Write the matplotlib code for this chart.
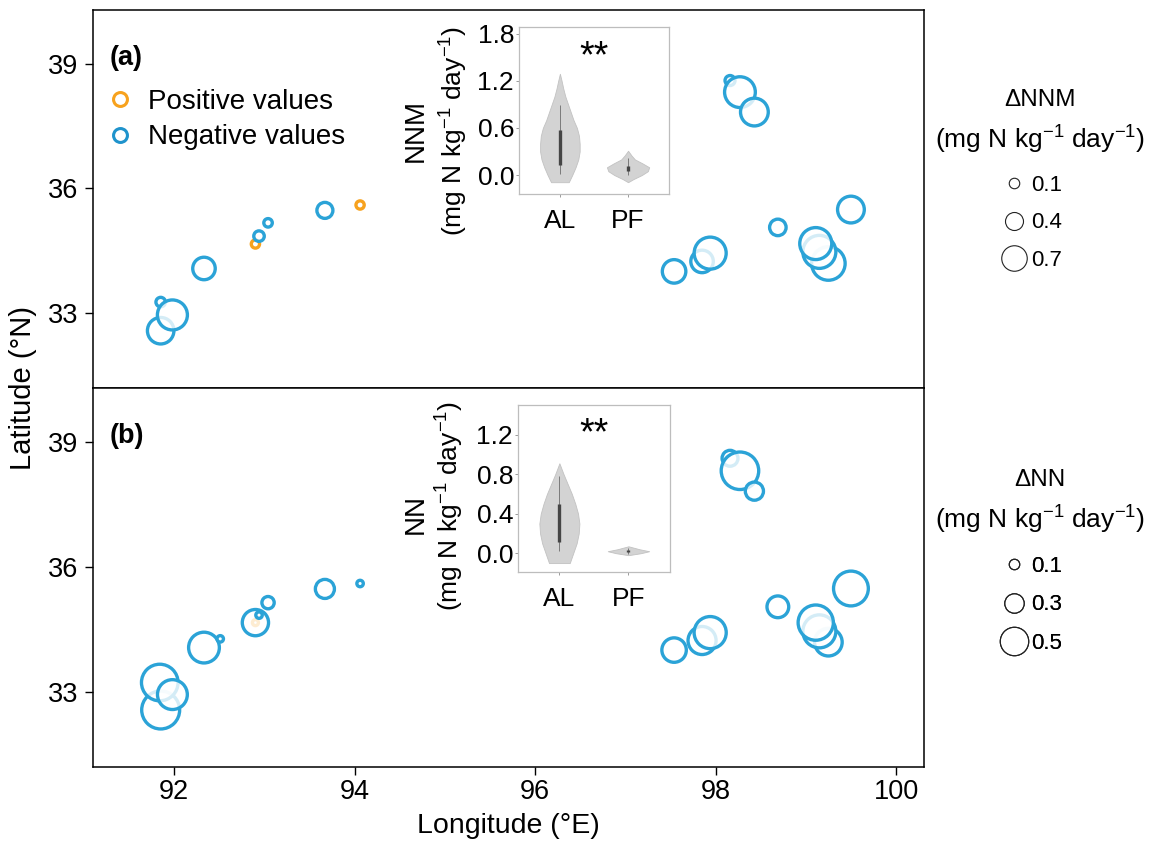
import matplotlib
matplotlib.use("Agg")
import matplotlib.pyplot as plt
from matplotlib.lines import Line2D

plt.rcParams["font.family"] = ["Liberation Sans", "DejaVu Sans"]
plt.rcParams["mathtext.fontset"] = "custom"
plt.rcParams["mathtext.rm"] = "Liberation Sans"
plt.rcParams["mathtext.default"] = "regular"

BLUE = "#2ba3d7"
ORANGE = "#f7a21e"
UNIT = "(mg N kg$^{-1}$ day$^{-1}$)"

# ---- panel (a): dNNM per site (draw order matters for overlaps) ----
lon_a = [91.85, 91.85, 91.98, 92.33, 92.90, 92.94, 93.04, 93.67, 94.06,
         98.16, 98.27, 98.43, 97.54, 97.85, 97.94, 98.69, 99.25, 99.15, 99.11, 99.50]
lat_a = [33.26, 32.57, 32.95, 34.07, 34.66, 34.85, 35.17, 35.47, 35.60,
         38.60, 38.32, 37.84, 34.00, 34.24, 34.44, 35.06, 34.19, 34.47, 34.67, 35.49]
val_a = [0.06, 0.74, 0.88, 0.58, 0.01, 0.10, 0.02, 0.32, 0.01,
         0.08, 0.91, 0.79, 0.62, 0.58, 0.96, 0.34, 1.02, 1.00, 0.96, 0.75]
pos_a = [False, False, False, False, True, False, False, False, True,
         False, False, False, False, False, False, False, False, False, False, False]

# ---- panel (b): dNN per site ----
lon_b = [91.85, 91.84, 91.98, 92.33, 92.51, 92.90, 92.90, 92.94, 93.04, 93.67, 94.06,
         98.16, 98.27, 98.43, 97.54, 97.85, 97.94, 98.69, 99.25, 99.15, 99.11, 99.50]
lat_b = [32.56, 33.22, 32.93, 34.06, 34.27, 34.66, 34.66, 34.84, 35.14, 35.47, 35.60,
         38.61, 38.31, 37.82, 34.00, 34.23, 34.42, 35.04, 34.19, 34.45, 34.66, 35.48]
val_b = [0.71, 0.68, 0.53, 0.55, 0.01, 0.00, 0.45, 0.01, 0.14, 0.29, 0.01,
         0.22, 0.70, 0.27, 0.41, 0.49, 0.58, 0.35, 0.48, 0.60, 0.65, 0.64]
pos_b = [False, False, False, False, False, True, False, False, False, False, False,
         False, False, False, False, False, False, False, False, False, False, False]

legend_vals_a = [0.1, 0.4, 0.7]
legend_vals_b = [0.1, 0.3, 0.5]

# ---- inset violins: (level, half-width) profiles and box stats ----
groups = ["AL", "PF"]
al_a_y = [-0.09, 0.0, 0.1, 0.2, 0.3, 0.4, 0.5, 0.6, 0.7, 0.8, 0.9, 1.0, 1.1, 1.2, 1.29]
al_a_w = [0.13, 0.18, 0.23, 0.27, 0.29, 0.29, 0.28, 0.25, 0.20, 0.16, 0.12, 0.08, 0.05, 0.025, 0.0]
pf_a_y = [-0.09, -0.05, 0.0, 0.05, 0.1, 0.15, 0.2, 0.25, 0.31]
pf_a_w = [0.0, 0.08, 0.20, 0.29, 0.31, 0.21, 0.10, 0.05, 0.0]
box_a = [(0.02, 0.13, 0.57, 0.89), (0.0, 0.05, 0.12, 0.22)]

al_b_y = [-0.10, 0.0, 0.1, 0.2, 0.3, 0.4, 0.5, 0.6, 0.7, 0.8, 0.91]
al_b_w = [0.15, 0.20, 0.25, 0.28, 0.29, 0.27, 0.23, 0.18, 0.12, 0.06, 0.0]
pf_b_y = [-0.02, 0.0, 0.02, 0.04, 0.07]
pf_b_w = [0.0, 0.18, 0.30, 0.16, 0.0]
box_b = [(0.02, 0.11, 0.50, 0.78), (-0.01, 0.01, 0.035, 0.05)]


def marker_pt(v, base, k):
    return 0.72 * (base + k * v)


fig = plt.figure(figsize=(11.51, 8.46), dpi=100)
ax_a = fig.add_axes([0.0808, 0.5414, 0.722, 0.4468])
ax_b = fig.add_axes([0.0808, 0.0934, 0.722, 0.448])

panels = [
    (ax_a, lon_a, lat_a, val_a, pos_a, 8, 25, legend_vals_a, "\u0394NNM", "(a)",
     0.437, 0.74, 0.8818, 0.8345),
    (ax_b, lon_b, lat_b, val_b, pos_b, 6, 45, legend_vals_b, "\u0394NN", "(b)",
     0.4274, 0.80, 0.4326, 0.3853),
]

for ax, lon, lat, val, pos, base, k, lvals, ltitle, tag, leg_y, lsp, t1_y, t2_y in panels:
    sizes = [marker_pt(v, base, k) ** 2 for v in val]
    cols = [ORANGE if p else BLUE for p in pos]
    ax.scatter(lon, lat, s=sizes, facecolors=(1, 1, 1, 0.8), edgecolors=cols,
               linewidths=2.4, zorder=3)
    ax.set_xlim(91.1, 100.31)
    ax.set_ylim(31.19, 40.3)
    ax.set_xticks([92, 94, 96, 98, 100])
    ax.set_yticks([33, 36, 39])
    ax.tick_params(axis="both", direction="out", length=5.5, width=1.0,
                   labelsize=19.5, color="black")
    ax.tick_params(axis="y", pad=5)
    ax.tick_params(axis="x", pad=3)
    for sp in ax.spines.values():
        sp.set_linewidth(1.1)
    ax.text(0.02, 0.873, tag, transform=ax.transAxes, fontsize=19.5,
            fontweight="bold", va="center", ha="left")

    # size legend on the right
    handles = [Line2D([], [], linestyle="none", marker="o",
                      markersize=marker_pt(v, base, k), markerfacecolor="none",
                      markeredgecolor="#222222", markeredgewidth=0.8)
               for v in lvals]
    leg = ax.legend(handles, [f"{v:.1f}" for v in lvals],
                    loc="center", bbox_to_anchor=(1.129, leg_y), frameon=False,
                    fontsize=16, handlelength=1.25, handletextpad=0.16,
                    labelspacing=lsp, borderpad=0, borderaxespad=0)
    ax.add_artist(leg)
    fig.text(0.9036, t1_y, ltitle, fontsize=17.5, ha="center", va="center")
    fig.text(0.9036, t2_y, UNIT, fontsize=19, ha="center", va="center")

ax_a.tick_params(axis="x", labelbottom=False)

sign_handles = [
    Line2D([], [], linestyle="none", marker="o", markersize=10,
           markerfacecolor="none", markeredgecolor=ORANGE, markeredgewidth=2.2),
    Line2D([], [], linestyle="none", marker="o", markersize=10,
           markerfacecolor="none", markeredgecolor="#1f93cc", markeredgewidth=2.2),
]
ax_a.legend(sign_handles, ["Positive values", "Negative values"], loc="center left",
            bbox_to_anchor=(0.0156, 0.71), frameon=False, fontsize=20,
            handlelength=1.0, handletextpad=0.51, labelspacing=0.35,
            borderpad=0, borderaxespad=0)

fig.text(0.02, 0.5414, "Latitude (\u00b0N)", rotation=90, fontsize=21,
         ha="center", va="center")
fig.text(0.4418, 0.0236, "Longitude (\u00b0E)", fontsize=20.5, ha="center", va="center")

# ---- insets ----
insets = [
    ([0.4509, 0.7707, 0.1303, 0.1974], [(al_a_y, al_a_w), (pf_a_y, pf_a_w)], box_a,
     (-0.24, 1.885), [0.0, 0.6, 1.2, 1.8], "NNM", (-0.687, 0.383), (-0.433, 0.377), 0.76),
    ([0.4500, 0.3239, 0.1320, 0.1974], [(al_b_y, al_b_w), (pf_b_y, pf_b_w)], box_b,
     (-0.19, 1.50), [0.0, 0.4, 0.8, 1.2], "NN", (-0.67, 0.347), (-0.447, 0.395), 0.765),
]
for rect, profiles, boxes, ylim, yticks, name, name_xy, unit_xy, star_y in insets:
    ins = fig.add_axes(rect)
    for i, ((ys, ws), (lo, q1, q3, hi)) in enumerate(zip(profiles, boxes)):
        p = i + 1
        ins.fill_betweenx(ys, [p - w for w in ws], [p + w for w in ws],
                          facecolor="#d3d3d3", edgecolor="#c2c2c2", linewidth=0.6)
        ins.vlines(p, lo, hi, color="#7a7a7a", linewidth=0.7)
        ins.vlines(p, q1, q3, color="#454545", linewidth=2.4)
    ins.set_xlim(0.4, 2.6)
    ins.set_ylim(*ylim)
    ins.set_xticks([1, 2])
    ins.set_xticklabels(groups)
    ins.set_yticks(yticks)
    ins.set_yticklabels([f"{t:.1f}" for t in yticks])
    ins.tick_params(axis="both", length=2.5, width=0.7, color="#9a9a9a",
                    labelsize=19)
    ins.tick_params(axis="y", pad=1)
    ins.tick_params(axis="x", pad=8)
    for sp in ins.spines.values():
        sp.set_color("#bdbdbd")
        sp.set_linewidth(0.9)
    ins.text(*name_xy, name, transform=ins.transAxes, rotation=90, fontsize=20,
             ha="center", va="center")
    ins.text(*unit_xy, UNIT, transform=ins.transAxes, rotation=90, fontsize=19,
             ha="center", va="center")
    ins.text(0.5, star_y, "**", transform=ins.transAxes, fontsize=27,
             ha="center", va="baseline")

fig.savefig("out.png", dpi=100)
